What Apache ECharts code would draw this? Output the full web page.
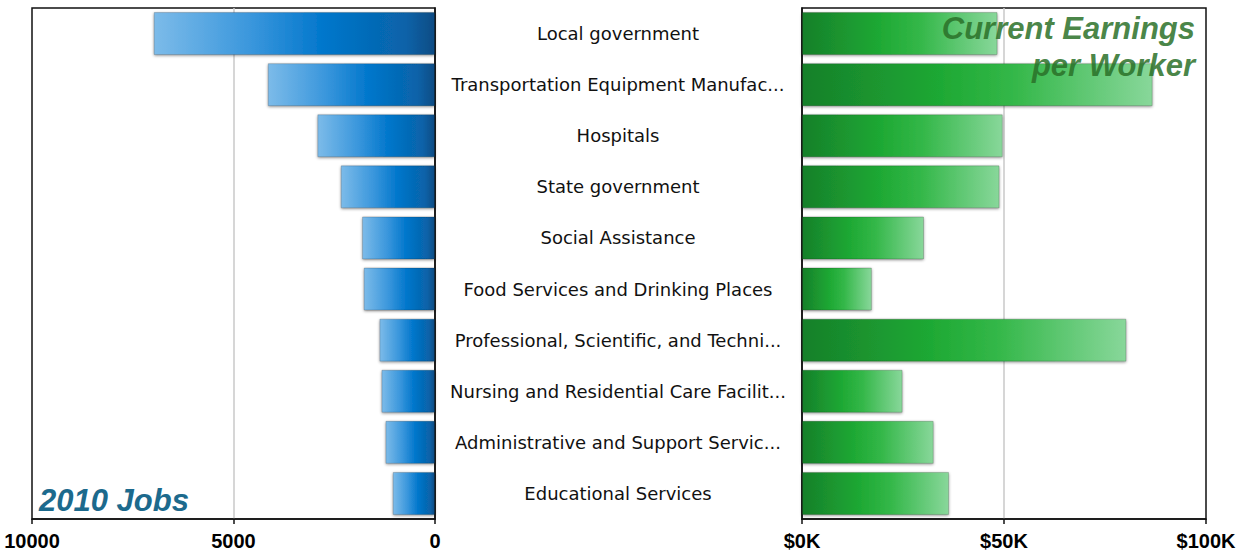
<!DOCTYPE html>
<html>
<head>
<meta charset="utf-8">
<style>
  html, body { margin: 0; padding: 0; background: #ffffff; }
  #chart { width: 1249px; height: 554px; }
</style>
<script src="https://cdn.jsdelivr.net/npm/echarts@6/dist/echarts.min.js"></script>
</head>
<body>
<div id="chart"></div>
<script>
// Industry labels (as displayed, longest names shortened)
const industries = [
  'Local government',
  'Transportation Equipment Manufac...',
  'Hospitals',
  'State government',
  'Social Assistance',
  'Food Services and Drinking Places',
  'Professional, Scientific, and Techni...',
  'Nursing and Residential Care Facilit...',
  'Administrative and Support Servic...',
  'Educational Services'
];

// Number of jobs in 2010
const jobs2010 = [6980, 4150, 2920, 2340, 1810, 1770, 1380, 1330, 1230, 1050];

// Current earnings per worker, dollars
const earnings = [48400, 86800, 49700, 48900, 30200, 17300, 80300, 24900, 32600, 36400];

// Tick settings of the two value axes
const jobsTicks = { min: 0, max: 10000, interval: 5000 };
const earningsTicks = { min: 0, max: 100000, interval: 50000 };

const chart = echarts.init(document.getElementById('chart'), null, { renderer: 'svg' });

const blueFill = new echarts.graphic.LinearGradient(0, 0, 1, 0, [
  { offset: 0, color: '#7cbbe9' },
  { offset: 0.35, color: '#3996dc' },
  { offset: 0.6, color: '#0277cc' },
  { offset: 0.9, color: '#0862a8' },
  { offset: 1, color: '#0a4c84' }
]);
const greenFill = new echarts.graphic.LinearGradient(0, 0, 1, 0, [
  { offset: 0, color: '#16802a' },
  { offset: 0.4, color: '#1fa934' },
  { offset: 0.6, color: '#33b748' },
  { offset: 1, color: '#88d79a' }
]);

const valueLabel = {
  fontFamily: 'Liberation Sans',
  fontWeight: 'bold',
  fontSize: 20,
  color: '#000',
  margin: 12
};
const frameAxisLine = { show: true, lineStyle: { color: '#111', width: 1.5 } };
const gridSplit = {
  show: true,
  showMinLine: false,
  showMaxLine: false,
  lineStyle: { color: '#c9c9c9', width: 1.5 }
};
const barShadow = {
  borderColor: 'rgba(0,0,0,0.18)',
  borderWidth: 1,
  shadowColor: 'rgba(0,0,0,0.45)',
  shadowBlur: 3,
  shadowOffsetY: 1
};
const titleFont = 'italic bold 31px "Liberation Sans"';

chart.setOption({
  animation: false,
  backgroundColor: '#ffffff',
  grid: [
    { left: 32, right: 814, top: 8, bottom: 35, show: true, borderColor: '#111', borderWidth: 1.5, backgroundColor: 'transparent' },
    { left: 802, right: 43, top: 8, bottom: 35, show: true, borderColor: '#111', borderWidth: 1.5, backgroundColor: 'transparent' }
  ],
  xAxis: [
    {
      gridIndex: 0, type: 'value', inverse: true,
      min: jobsTicks.min, max: jobsTicks.max, interval: jobsTicks.interval,
      axisLine: frameAxisLine,
      axisTick: { show: true, length: 5, lineStyle: { color: '#111', width: 1.5 } },
      axisLabel: Object.assign({}, valueLabel, { formatter: v => String(v) }),
      splitLine: gridSplit
    },
    {
      gridIndex: 1, type: 'value',
      min: earningsTicks.min, max: earningsTicks.max, interval: earningsTicks.interval,
      axisLine: frameAxisLine,
      axisTick: { show: true, length: 5, lineStyle: { color: '#111', width: 1.5 } },
      axisLabel: Object.assign({}, valueLabel, { formatter: v => '$' + (v / 1000) + 'K' }),
      splitLine: gridSplit
    }
  ],
  yAxis: [
    {
      gridIndex: 0, type: 'category', data: industries, inverse: true, position: 'right',
      axisLine: frameAxisLine,
      axisTick: { show: false },
      axisLabel: {
        margin: 183, align: 'center',
        fontFamily: 'DejaVu Sans', fontSize: 18, color: '#111'
      }
    },
    {
      gridIndex: 1, type: 'category', data: industries, inverse: true,
      axisLine: frameAxisLine,
      axisTick: { show: false },
      axisLabel: { show: false }
    }
  ],
  series: [
    {
      name: '2010 Jobs', type: 'bar', xAxisIndex: 0, yAxisIndex: 0,
      data: jobs2010, barWidth: 43,
      itemStyle: Object.assign({ color: blueFill }, barShadow)
    },
    {
      name: 'Current Earnings per Worker', type: 'bar', xAxisIndex: 1, yAxisIndex: 1,
      data: earnings, barWidth: 43,
      itemStyle: Object.assign({ color: greenFill }, barShadow)
    }
  ],
  graphic: [
    {
      type: 'text', x: 39, y: 500, z: 10,
      style: {
        text: '2010 Jobs', fill: '#1c6a8d', font: titleFont,
        textAlign: 'left', textVerticalAlign: 'middle'
      }
    },
    {
      type: 'text', x: 1195, y: 28, z: 10,
      style: {
        text: 'Current Earnings', fill: 'rgba(42,112,40,0.85)', font: titleFont,
        textAlign: 'right', textVerticalAlign: 'middle'
      }
    },
    {
      type: 'text', x: 1195, y: 65, z: 10,
      style: {
        text: 'per Worker', fill: 'rgba(42,112,40,0.85)', font: titleFont,
        textAlign: 'right', textVerticalAlign: 'middle'
      }
    }
  ]
});
</script>
</body>
</html>
